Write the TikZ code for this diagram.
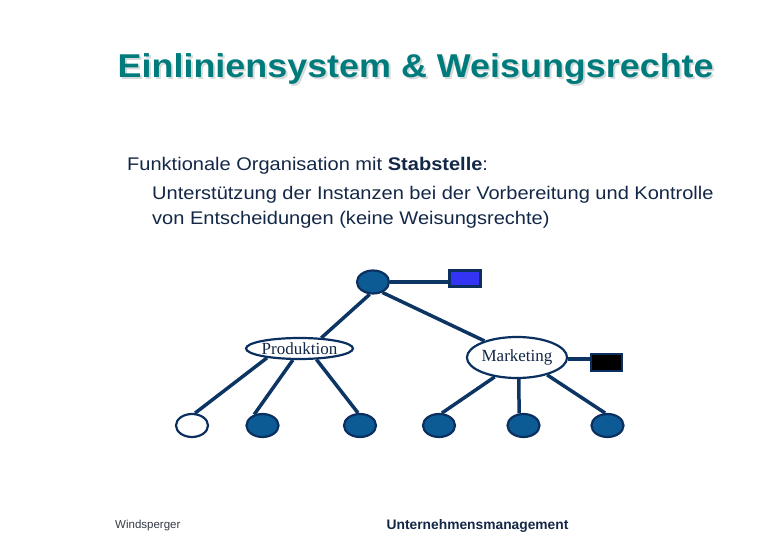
\documentclass[tikz,border=0pt]{standalone}
\usepackage{fontspec}
\setmainfont{Liberation Sans}
\newfontfamily\seriffont{Liberation Serif}
\usetikzlibrary{shapes.geometric}
\definecolor{titleteal}{HTML}{007B7B}
\definecolor{titleshade}{HTML}{D6DADA}
\definecolor{navy}{HTML}{0B3060}
\definecolor{linenavy}{HTML}{0D3563}
\definecolor{unitfill}{HTML}{0C5B95}
\definecolor{bodytxt}{HTML}{132747}
\definecolor{stabblue}{HTML}{3434F4}
\definecolor{footgray}{HTML}{333A44}
\newcommand{\wide}[2]{\scalebox{#1}[1]{#2}}
\begin{document}
\begin{tikzpicture}[x=1pt,y=-1pt,
  unit/.style={ellipse, draw=navy, line width=2.2pt, fill=unitfill, minimum width=32pt, minimum height=23pt, inner sep=0pt},
  emptyunit/.style={unit, fill=white},
  labelunit/.style={ellipse, draw=navy, line width=2.2pt, fill=white, inner sep=0pt, font=\seriffont\fontsize{17}{20}\selectfont, text=bodytxt},
  stabbox/.style={rectangle, draw=navy, line width=2.2pt, minimum width=31pt, minimum height=16pt, inner sep=0pt},
  link/.style={draw=linenavy, line width=3.5pt},
  bodyline/.style={anchor=base west, font=\fontsize{18.3}{22}\selectfont, text=bodytxt, inner sep=0pt},
  titlestyle/.style={anchor=base west, font=\fontsize{33}{40}\selectfont\bfseries, inner sep=0pt}
]
\useasboundingbox (0,0) rectangle (780,540);
% title
\node[titlestyle, text=titleshade] (titleshadow) at (119.5,80) {\wide{1.088}{Einliniensystem \& Weisungsrechte}};
\node[titlestyle, text=titleteal] (title) at (117.5,78) {\wide{1.088}{Einliniensystem \& Weisungsrechte}};
% body text
\node[bodyline] (l1) at (127,170.7) {\wide{1.095}{Funktionale Organisation mit \textbf{Stabstelle}:}};
\node[bodyline] (l2) at (152,199.5) {\wide{1.095}{Unterstützung der Instanzen bei der Vorbereitung und Kontrolle}};
\node[bodyline] (l3) at (152,224.3) {\wide{1.095}{von Entscheidungen (keine Weisungsrechte)}};
% nodes
\node[unit] (top) at (373,282) {};
\node[stabbox, fill=stabblue] (stab) at (465,278.5) {};
\node[labelunit, minimum width=103pt, minimum height=21pt] (prod) at (299.5,348.5) {Produktion};
\node[labelunit, minimum width=98pt, minimum height=41pt] (mkt) at (517,357.5) {Marketing};
\node[stabbox, fill=black, minimum height=17pt] (blk) at (606.5,362.5) {};
\node[emptyunit] (b1) at (192,425.5) {};
\node[unit] (b2) at (262.5,425.5) {};
\node[unit] (b3) at (360,425.5) {};
\node[unit] (b4) at (439,425.5) {};
\node[unit] (b5) at (523.5,425.5) {};
\node[unit] (b6) at (607.5,425.5) {};
\begin{scope}[link]
\draw (top.east) -- (top.east -| stab.west);
\draw (mkt.east) ++(0,1.5) coordinate (mkte) -- (mkte -| blk.west);
\draw (top.255) -- (prod.26);
\draw (top.312) -- (mkt.153);
\draw (prod.196) -- (b1.76);
\draw (prod.240) -- (b2.127);
\draw (prod.327) -- (b3.99);
\draw (mkt.221) -- (b4.77);
\draw (mkt.275) -- (b5.110);
\draw (mkt.330) -- (b6.101);
\end{scope}
% footer
\node[anchor=base west, inner sep=0pt, font=\fontsize{11.5}{14}\selectfont, text=footgray] (foot1) at (115,528.5) {Windsperger};
\node[anchor=base west, inner sep=0pt, font=\fontsize{13.8}{16}\selectfont\bfseries, text=bodytxt] (foot2) at (386.5,529) {Unternehmensmanagement};
\end{tikzpicture}
\end{document}
